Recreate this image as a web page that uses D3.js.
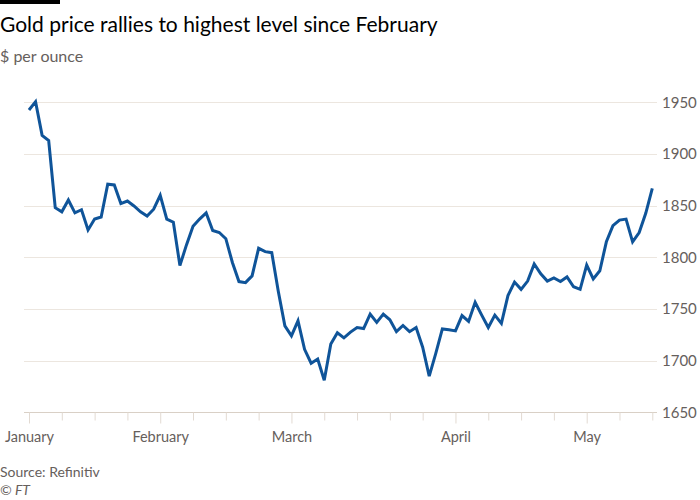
<!DOCTYPE html>
<html>
<head>
<meta charset="utf-8">
<script src="https://cdn.jsdelivr.net/npm/d3@7"></script>
<style>
  html, body { margin: 0; padding: 0; background: #ffffff; }
  svg { display: block; }
  text { font-family: Lato, "Open Sans", sans-serif; }
</style>
</head>
<body>
<svg id="chart" width="700" height="500"></svg>
<script>
// Trading days: Jan 4 2021 .. May 17 2021 (weekdays), gold price $/oz
const dates = [
  "2021-01-04","2021-01-05","2021-01-06","2021-01-07","2021-01-08",
  "2021-01-11","2021-01-12","2021-01-13","2021-01-14","2021-01-15",
  "2021-01-18","2021-01-19","2021-01-20","2021-01-21","2021-01-22",
  "2021-01-25","2021-01-26","2021-01-27","2021-01-28","2021-01-29",
  "2021-02-01","2021-02-02","2021-02-03","2021-02-04","2021-02-05",
  "2021-02-08","2021-02-09","2021-02-10","2021-02-11","2021-02-12",
  "2021-02-15","2021-02-16","2021-02-17","2021-02-18","2021-02-19",
  "2021-02-22","2021-02-23","2021-02-24","2021-02-25","2021-02-26",
  "2021-03-01","2021-03-02","2021-03-03","2021-03-04","2021-03-05",
  "2021-03-08","2021-03-09","2021-03-10","2021-03-11","2021-03-12",
  "2021-03-15","2021-03-16","2021-03-17","2021-03-18","2021-03-19",
  "2021-03-22","2021-03-23","2021-03-24","2021-03-25","2021-03-26",
  "2021-03-29","2021-03-30","2021-03-31","2021-04-01","2021-04-02",
  "2021-04-05","2021-04-06","2021-04-07","2021-04-08","2021-04-09",
  "2021-04-12","2021-04-13","2021-04-14","2021-04-15","2021-04-16",
  "2021-04-19","2021-04-20","2021-04-21","2021-04-22","2021-04-23",
  "2021-04-26","2021-04-27","2021-04-28","2021-04-29","2021-04-30",
  "2021-05-03","2021-05-04","2021-05-05","2021-05-06","2021-05-07",
  "2021-05-10","2021-05-11","2021-05-12","2021-05-13","2021-05-14",
  "2021-05-17"
];
const prices = [
  1942.6, 1950.6, 1918, 1913, 1848,
  1844, 1855.5, 1843, 1846, 1826.5,
  1837, 1839, 1870.7, 1870, 1852,
  1854.5, 1849.7, 1844, 1840, 1846.5,
  1860, 1837, 1834, 1792, 1812,
  1830, 1837, 1843, 1826, 1824,
  1818, 1795, 1776.5, 1775.5, 1782,
  1808.7, 1805.5, 1804.5, 1767, 1733.7,
  1724, 1738.5, 1711, 1697.5, 1701.6,
  1681, 1716, 1727, 1722, 1727.6,
  1732, 1731, 1745, 1737, 1745,
  1739.5, 1728, 1734, 1728, 1732,
  1713, 1685, 1707, 1730.7, 1729.8,
  1728.8, 1743.6, 1738, 1756.4, 1744,
  1732, 1744, 1736, 1763, 1776,
  1769, 1777, 1793.6, 1784, 1777,
  1780, 1776.5, 1781, 1771.5, 1769,
  1792.5, 1779, 1787, 1815, 1830.6,
  1836, 1837, 1815, 1824, 1842.6,
  1866.8
];
const yTicks = [1650, 1700, 1750, 1800, 1850, 1900, 1950];
const monthLabels = ["January", "February", "March", "April", "May"];
const monthLabelDates = ["2021-01-04", "2021-02-01", "2021-03-01", "2021-04-05", "2021-05-03"];

const svg = d3.select("#chart");
const data = prices.map((p, i) => ({ i, date: dates[i], price: p }));

// x is a trading-day index scale
const x = d3.scaleLinear().domain([0, prices.length - 1]).range([29, 652.3]);
const y = d3.scaleLinear().domain([1650, 1950]).range([412.3, 102.3]);

const gridLeft = 24, gridRight = 657;

// top black bar
svg.append("rect").attr("x", 0).attr("y", 0).attr("width", 60).attr("height", 4).attr("fill", "#000");

svg.append("text").attr("x", 0).attr("y", 32)
  .attr("font-size", 21).attr("fill", "#000")
  .text("Gold price rallies to highest level since February");
svg.append("text").attr("x", 0).attr("y", 62)
  .attr("font-size", 16).attr("fill", "#66605c")
  .text("$ per ounce");

// gridlines + right axis labels
const yAxis = d3.axisRight(y).tickValues(yTicks).tickSize(0).tickPadding(0).tickFormat(d3.format("d"));
const gy = svg.append("g").attr("transform", `translate(${gridRight},0)`).call(yAxis);
gy.select(".domain").remove();
gy.selectAll("text").attr("x", 5).attr("font-size", 15).attr("fill", "#66605c")
  .attr("font-family", "Lato, sans-serif");

svg.append("g").selectAll("line").data(yTicks.filter(d => d !== 1650)).join("line")
  .attr("x1", gridLeft).attr("x2", gridRight)
  .attr("y1", d => Math.round(y(d)) + 0.5).attr("y2", d => Math.round(y(d)) + 0.5)
  .attr("stroke", "#ece6df").attr("stroke-width", 1);

// x axis
const tickIdx = d3.range(0, prices.length, 5);
const labelIdx = monthLabelDates.map(d => dates.indexOf(d));
const baseY = Math.round(y(1650)) + 0.5;
svg.append("line").attr("x1", gridLeft).attr("x2", gridRight)
  .attr("y1", baseY).attr("y2", baseY).attr("stroke", "#d9d0c6").attr("stroke-width", 1);

const xAxisMinor = d3.axisBottom(x).tickValues(tickIdx.filter(i => !labelIdx.includes(i)))
  .tickSize(8).tickFormat("");
const gxm = svg.append("g").attr("transform", `translate(0,${baseY})`).call(xAxisMinor);
gxm.select(".domain").remove();
gxm.selectAll("line").attr("stroke", "#e2dad2");

const xAxisMajor = d3.axisBottom(x).tickValues(labelIdx).tickSize(11).tickPadding(8)
  .tickFormat((d, k) => monthLabels[k]);
const gxM = svg.append("g").attr("transform", `translate(0,${baseY})`).call(xAxisMajor);
gxM.select(".domain").remove();
gxM.selectAll("line").attr("stroke", "#e2dad2");
gxM.selectAll("text").attr("font-size", 14.5).attr("fill", "#66605c")
  .attr("font-family", "Lato, sans-serif");

// line
svg.append("path").datum(data)
  .attr("fill", "none").attr("stroke", "#0f5499").attr("stroke-width", 3)
  .attr("stroke-linejoin", "miter").attr("stroke-linecap", "butt")
  .attr("d", d3.line().x(d => x(d.i)).y(d => y(d.price)));

svg.append("text").attr("x", 0).attr("y", 477)
  .attr("font-size", 14).attr("fill", "#66605c").text("Source: Refinitiv");
svg.append("text").attr("x", 0).attr("y", 495)
  .attr("font-size", 14).attr("fill", "#66605c").attr("font-style", "italic").text("© FT");
</script>
</body>
</html>
